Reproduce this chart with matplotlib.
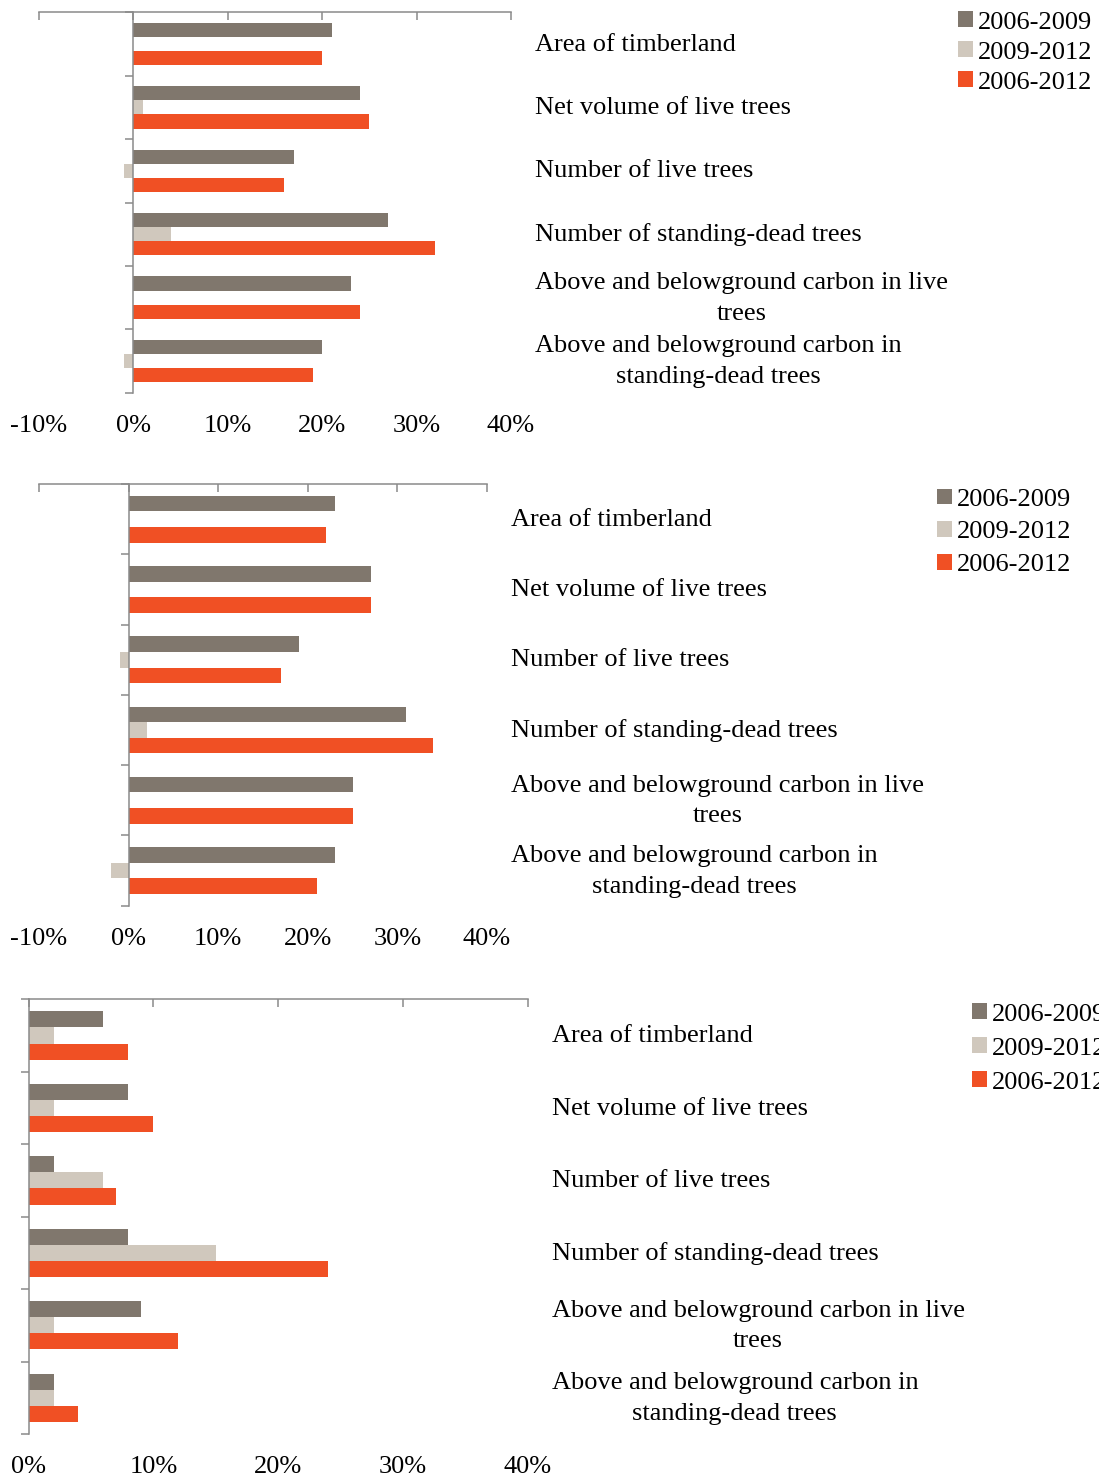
import matplotlib
matplotlib.use("Agg")
import matplotlib.pyplot as plt
from matplotlib.patches import Patch
from matplotlib.ticker import FuncFormatter

plt.rcParams['font.family'] = ['Liberation Serif', 'DejaVu Serif']

categories = [
    'Area of timberland',
    'Net volume of live trees',
    'Number of live trees',
    'Number of standing-dead trees',
    'Above and belowground carbon in live\ntrees',
    'Above and belowground carbon in\nstanding-dead trees',
]
periods = ['2006-2009', '2009-2012', '2006-2012']
colors = ['#80776d', '#d0c8bd', '#f05024']

# percent change per category, one list per period
top_0609 = [21, 24, 17, 27, 23, 20]
top_0912 = [0, 1, -1, 4, 0, -1]
top_0612 = [20, 25, 16, 32, 24, 19]

mid_0609 = [23, 27, 19, 31, 25, 23]
mid_0912 = [0, 0, -1, 2, 0, -2]
mid_0612 = [22, 27, 17, 34, 25, 21]

low_0609 = [6, 8, 2, 8, 9, 2]
low_0912 = [2, 2, 6, 15, 2, 2]
low_0612 = [8, 10, 7, 24, 12, 4]

W, H = 1099, 1479
fig = plt.figure(figsize=(W / 100, H / 100), dpi=100)

# (left, right, top, bottom) in pixels, x-range, legend anchor, legend row spacing
panels = [
    ((39, 511, 12.3, 392.7), (-10, 40), [top_0609, top_0912, top_0612], (958, 11.5), 0.29),
    ((39, 487, 484, 905.7), (-10, 40), [mid_0609, mid_0912, mid_0612], (937, 488.5), 0.39),
    ((28.6, 527.5, 999.3, 1434), (0, 40), [low_0609, low_0912, low_0612], (972, 1003.5), 0.44),
]

spine_col = '#8a8a8a'
bar_h = 1 / 4.5
fs = 19

for (l, r, t, b), xlim, series, (lx, ly), lsp in panels:
    ax = fig.add_axes([l / W, 1 - b / H, (r - l) / W, (b - t) / H])
    ypos = list(range(len(categories)))
    for k, vals in enumerate(series):
        ax.barh([y + (k - 1) * bar_h for y in ypos], vals, height=bar_h,
                color=colors[k], edgecolor='none')
    ax.set_xlim(*xlim)
    ax.set_ylim(len(categories) - 0.5, -0.5)

    for s in ['right', 'bottom']:
        ax.spines[s].set_visible(False)
    ax.spines['left'].set_position(('data', 0))
    for s in ['left', 'top']:
        ax.spines[s].set_color(spine_col)
        ax.spines[s].set_linewidth(1.1)

    ax.set_xticks(range(xlim[0], 41, 10))
    ax.xaxis.set_major_formatter(FuncFormatter(lambda v, p: f"{v:.0f}%"))
    ax.tick_params(axis='x', top=True, bottom=False, labeltop=False, labelbottom=True,
                   direction='in', length=6, width=1.1, color=spine_col,
                   labelsize=fs, pad=16)
    ax.set_yticks([y - 0.5 for y in range(len(categories) + 1)])
    ax.tick_params(axis='y', left=True, labelleft=False, direction='out',
                   length=6, width=1.1, color=spine_col)

    for i, name in enumerate(categories):
        ax.annotate(name, xy=(1, i), xycoords=('axes fraction', 'data'),
                    xytext=(17.3, -0.5), textcoords='offset points',
                    ha='left', va='center', multialignment='center',
                    fontsize=fs, linespacing=1.5)

    handles = [Patch(facecolor=c, edgecolor='none') for c in colors]
    fig.legend(handles, periods, loc='upper left',
               bbox_to_anchor=(lx / W, 1 - ly / H), frameon=False, fontsize=fs,
               handlelength=0.55, handleheight=0.55, handletextpad=0.2,
               labelspacing=lsp, borderpad=0, borderaxespad=0)

fig.savefig('out.png', dpi=100)
